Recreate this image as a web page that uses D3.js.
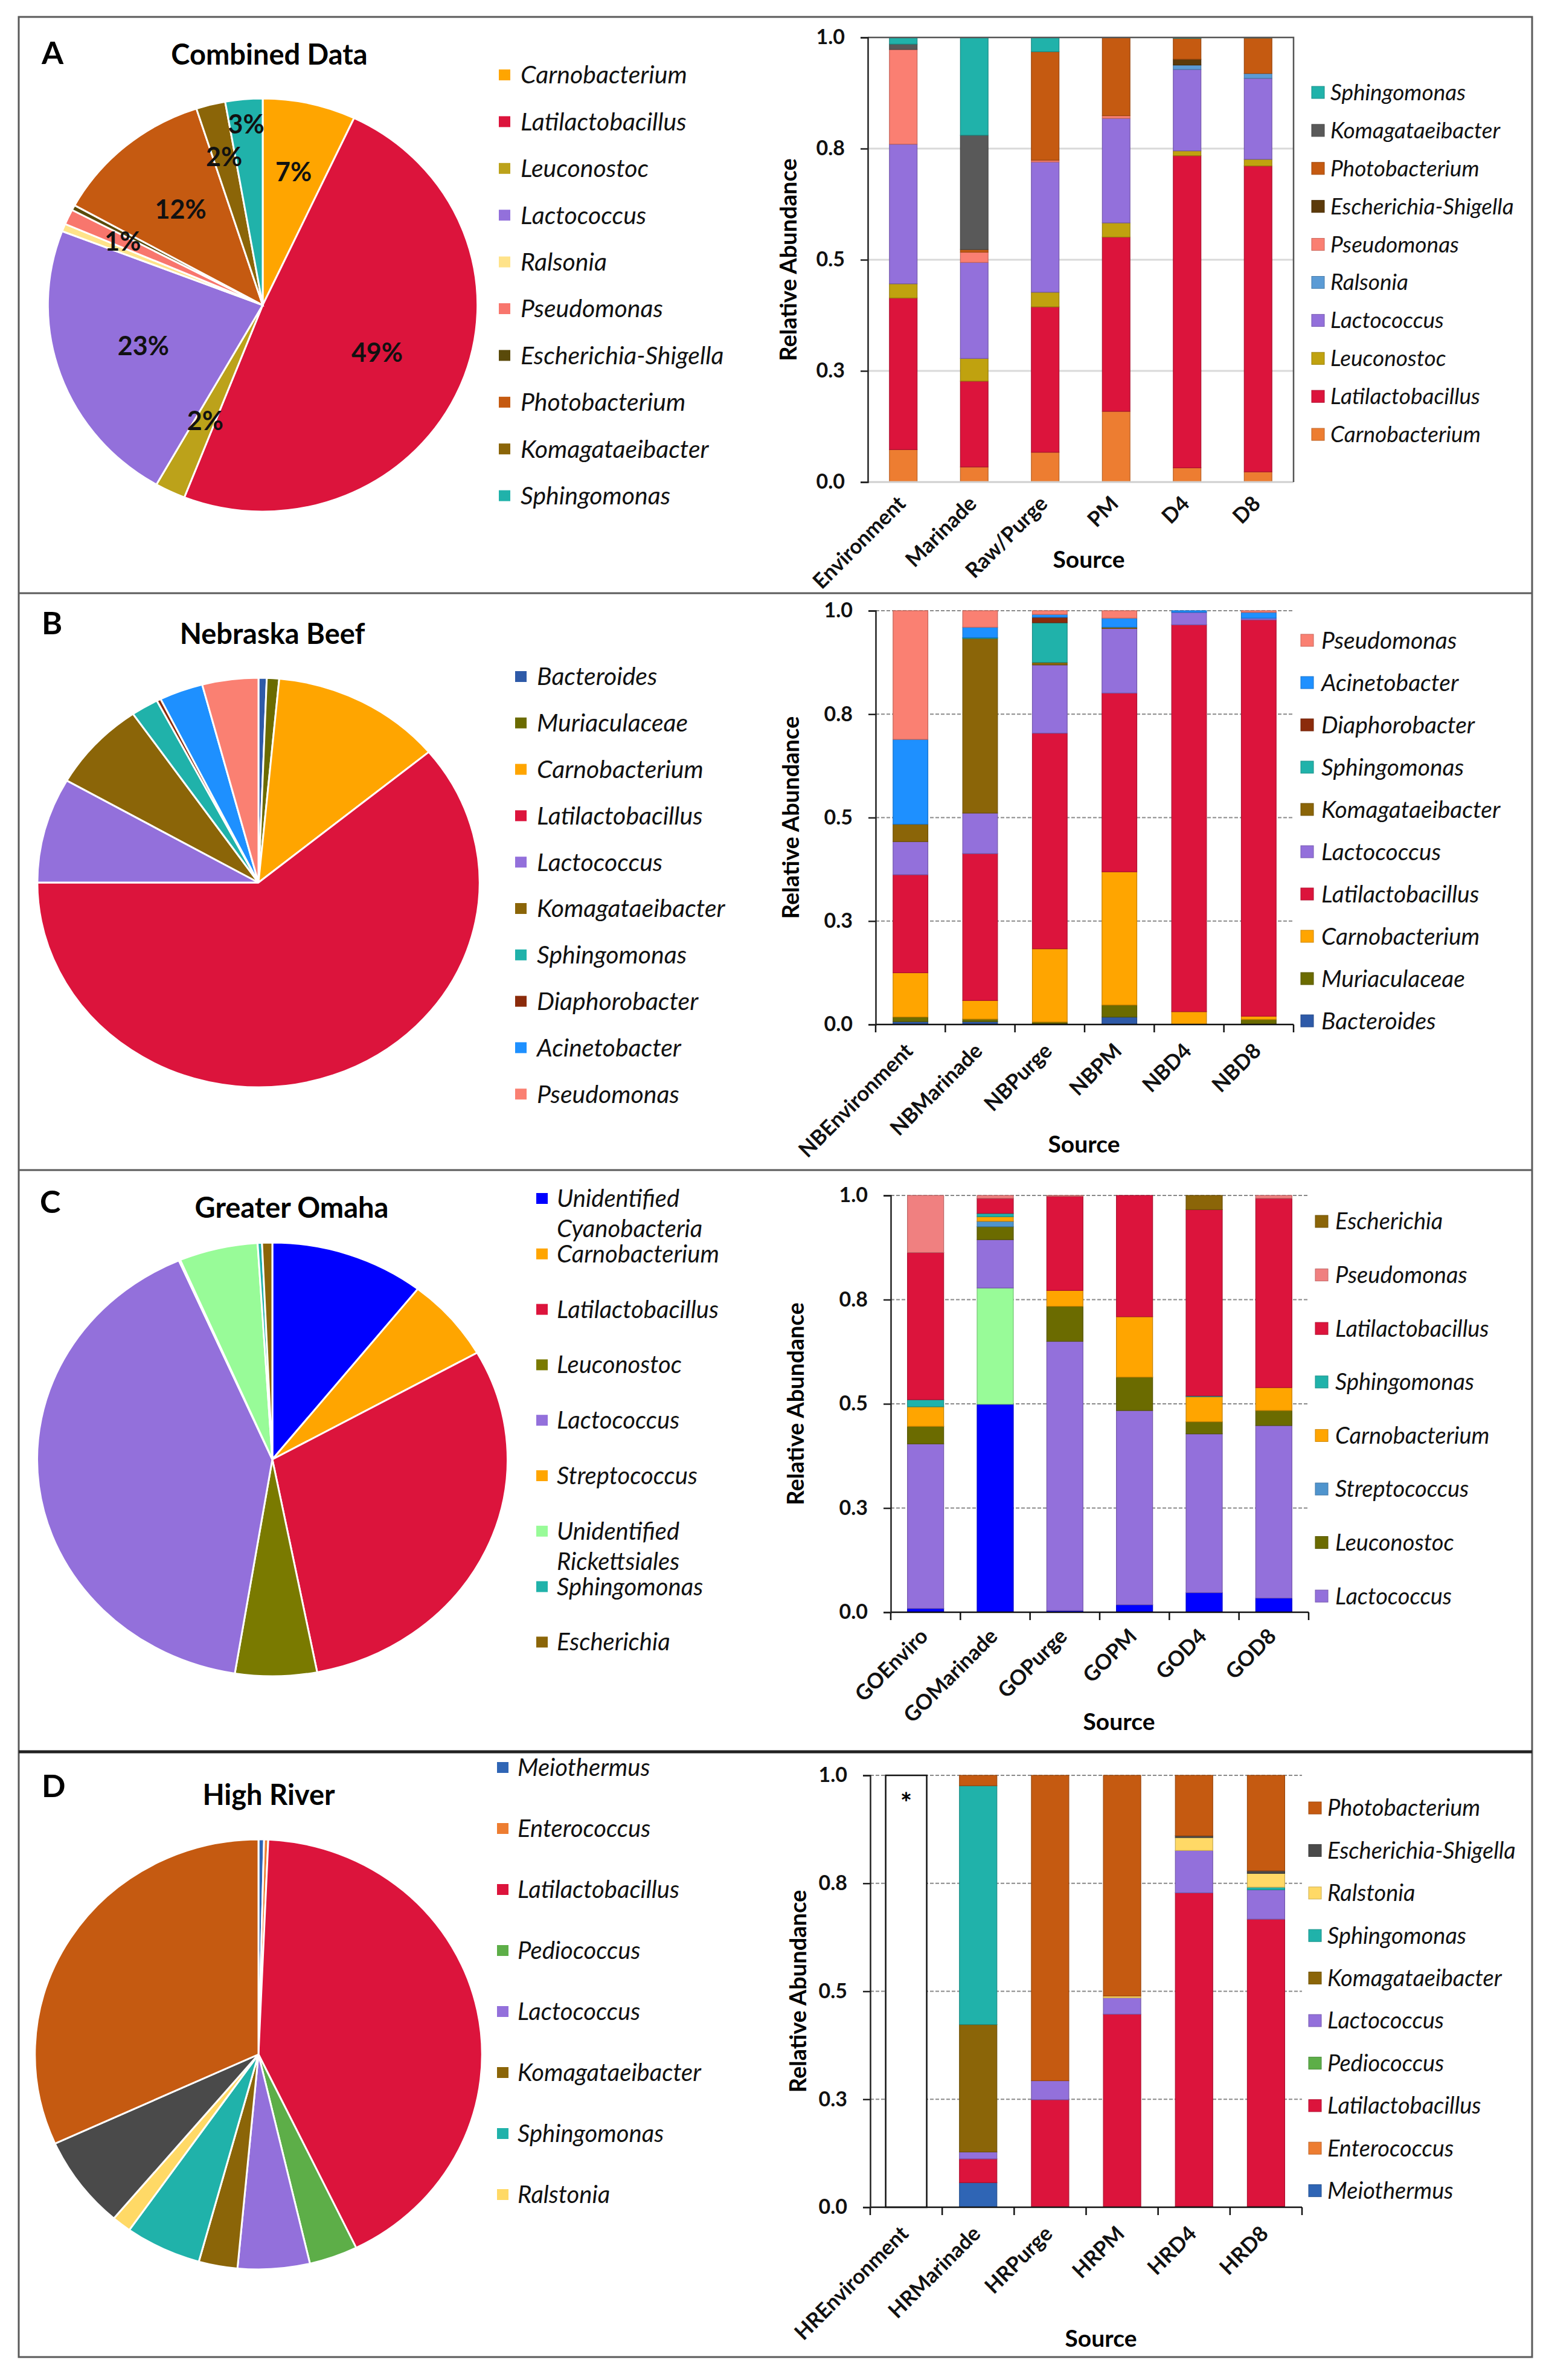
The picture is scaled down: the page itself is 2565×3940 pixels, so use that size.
<!DOCTYPE html>
<html>
<head>
<meta charset="utf-8">
<script src="https://cdn.jsdelivr.net/npm/d3@7"></script>
<style>
  body { margin: 0; background: #fff; }
  svg { display: block; font-family: Lato, "Open Sans", sans-serif; }
</style>
</head>
<body>
<div id="chart"></div>
<script>
// ---- shared axis ticks (Excel shows 0.25 / 0.75 rounded to one decimal)
const tickValues = [0, 0.25, 0.5, 0.75, 1];
const tickLabels = ['0.0', '0.3', '0.5', '0.8', '1.0'];

// ---- A: Combined Data
const taxaA = ['Carnobacterium', 'Latilactobacillus', 'Leuconostoc', 'Lactococcus', 'Ralsonia',
  'Pseudomonas', 'Escherichia-Shigella', 'Photobacterium', 'Komagataeibacter', 'Sphingomonas'];
const pieValuesA = [7, 49, 2.3, 22.6, 0.6, 1.2, 0.4, 12, 2.2, 2.8];
const sourcesA = ['Environment', 'Marinade', 'Raw/Purge', 'PM', 'D4', 'D8'];
const barValuesA = [
  [0.073, 0.034, 0.067, 0.159, 0.032, 0.023],
  [0.341, 0.193, 0.327, 0.392, 0.702, 0.688],
  [0.032, 0.051, 0.033, 0.032, 0.011, 0.015],
  [0.314, 0.216, 0.293, 0.235, 0.183, 0.182],
  [0, 0, 0, 0, 0.010, 0.011],
  [0.213, 0.023, 0.004, 0.006, 0, 0],
  [0, 0, 0, 0, 0.013, 0],
  [0, 0.006, 0.244, 0.176, 0.047, 0.080],
  [0.012, 0.257, 0, 0, 0, 0],
  [0.015, 0.220, 0.032, 0, 0.002, 0.001]
];

// ---- B: Nebraska Beef
const taxaB = ['Bacteroides', 'Muriaculaceae', 'Carnobacterium', 'Latilactobacillus', 'Lactococcus',
  'Komagataeibacter', 'Sphingomonas', 'Diaphorobacter', 'Acinetobacter', 'Pseudomonas'];
const pieValuesB = [0.6, 0.9, 12.5, 61, 8.3, 7.1, 2.0, 0.3, 3.2, 4.1];
const sourcesB = ['NBEnvironment', 'NBMarinade', 'NBPurge', 'NBPM', 'NBD4', 'NBD8'];
const barValuesB = [
  [0.007, 0.007, 0.002, 0.018, 0, 0],
  [0.011, 0.006, 0.004, 0.029, 0, 0.012],
  [0.107, 0.045, 0.177, 0.322, 0.031, 0.008],
  [0.237, 0.355, 0.521, 0.432, 0.935, 0.958],
  [0.080, 0.098, 0.165, 0.156, 0.030, 0.004],
  [0.042, 0.422, 0.006, 0.003, 0, 0],
  [0, 0.002, 0.096, 0, 0, 0],
  [0, 0, 0.013, 0, 0, 0],
  [0.205, 0.025, 0.007, 0.022, 0.004, 0.014],
  [0.311, 0.040, 0.009, 0.018, 0, 0.004]
];

// ---- C: Greater Omaha
const pieTaxaC = ['Unidentified Cyanobacteria', 'Carnobacterium', 'Latilactobacillus', 'Leuconostoc',
  'Lactococcus', 'Streptococcus', 'Unidentified Rickettsiales', 'Sphingomonas', 'Escherichia'];
const pieValuesC = [10.6, 6.2, 30.1, 5.6, 40.9, 0.1, 5.4, 0.3, 0.7];
const sourcesC = ['GOEnviro', 'GOMarinade', 'GOPurge', 'GOPM', 'GOD4', 'GOD8'];
const barTaxaC = ['Unidentified Cyanobacteria', 'Unidentified Rickettsiales', 'Lactococcus', 'Leuconostoc',
  'Streptococcus', 'Carnobacterium', 'Sphingomonas', 'Latilactobacillus', 'Pseudomonas', 'Escherichia'];
const barValuesC = [
  [0.009, 0.499, 0.004, 0.018, 0.047, 0.034],
  [0, 0.279, 0, 0, 0, 0],
  [0.395, 0.116, 0.646, 0.466, 0.381, 0.414],
  [0.042, 0.031, 0.084, 0.080, 0.029, 0.036],
  [0, 0.013, 0, 0, 0, 0],
  [0.047, 0.011, 0.038, 0.145, 0.060, 0.055],
  [0.017, 0.008, 0, 0, 0.002, 0],
  [0.353, 0.036, 0.226, 0.291, 0.447, 0.454],
  [0.137, 0.007, 0.002, 0, 0, 0.007],
  [0, 0, 0, 0, 0.034, 0]
];
const barLegendC = ['Escherichia', 'Pseudomonas', 'Latilactobacillus', 'Sphingomonas', 'Carnobacterium',
  'Streptococcus', 'Leuconostoc', 'Lactococcus'];

// ---- D: High River
const taxaD = ['Meiothermus', 'Enterococcus', 'Latilactobacillus', 'Pediococcus', 'Lactococcus',
  'Komagataeibacter', 'Sphingomonas', 'Ralstonia', 'Escherichia-Shigella', 'Photobacterium'];
const pieValuesD = [0.4, 0.3, 42.1, 3.5, 5.2, 2.8, 5.5, 1.4, 7.0, 31.8];
const sourcesD = ['HREnvironment', 'HRMarinade', 'HRPurge', 'HRPM', 'HRD4', 'HRD8'];
const barValuesD = [
  [0, 0.057, 0, 0, 0, 0],
  [0, 0, 0, 0, 0.002, 0.002],
  [0, 0.055, 0.249, 0.447, 0.726, 0.665],
  [0, 0, 0, 0, 0, 0],
  [0, 0.016, 0.044, 0.038, 0.098, 0.068],
  [0, 0.295, 0, 0, 0, 0],
  [0, 0.553, 0, 0, 0, 0.006],
  [0, 0, 0, 0.004, 0.030, 0.032],
  [0, 0, 0, 0, 0.004, 0.006],
  [0, 0.024, 0.707, 0.511, 0.140, 0.221]
];
const emptyBarD = [1, 0, 0, 0, 0, 0]; // HREnvironment: no reads (*)

// ---- colours
const colorsPieA = {
  Carnobacterium: '#FFA500', Latilactobacillus: '#DC143C', Leuconostoc: '#BCA21A', Lactococcus: '#9370DB',
  Ralsonia: '#FFE38A', Pseudomonas: '#F8766D', 'Escherichia-Shigella': '#5A4A0A', Photobacterium: '#C55A11',
  Komagataeibacter: '#8B6508', Sphingomonas: '#20B2AA'
};
const colorsBarA = Object.assign({}, colorsPieA, {
  Carnobacterium: '#ED7D31', Ralsonia: '#5B9BD5', Komagataeibacter: '#595959',
  'Escherichia-Shigella': '#5C3A0A', Leuconostoc: '#C0A20F', Pseudomonas: '#FA7F72'
});
const colorsB = {
  Bacteroides: '#2E5AA8', Muriaculaceae: '#6B6B00', Carnobacterium: '#FFA500', Latilactobacillus: '#DC143C',
  Lactococcus: '#9370DB', Komagataeibacter: '#8B6508', Sphingomonas: '#20B2AA', Diaphorobacter: '#8B2B0B',
  Acinetobacter: '#1E90FF', Pseudomonas: '#FA8072'
};
const colorsPieC = {
  'Unidentified Cyanobacteria': '#0000FF', Carnobacterium: '#FFA500', Latilactobacillus: '#DC143C',
  Leuconostoc: '#7A7A00', Lactococcus: '#9370DB', Streptococcus: '#FFA500',
  'Unidentified Rickettsiales': '#98FB98', Sphingomonas: '#20B2AA', Escherichia: '#8B6508'
};
const colorsBarC = Object.assign({}, colorsPieC, {
  Streptococcus: '#4F94CD', Pseudomonas: '#F08080', Leuconostoc: '#6B6B00'
});
const colorsD = {
  Meiothermus: '#2F65B5', Enterococcus: '#ED7D31', Latilactobacillus: '#DC143C', Pediococcus: '#5DAE48',
  Lactococcus: '#9370DB', Komagataeibacter: '#8B6508', Sphingomonas: '#20B2AA', Ralstonia: '#FFD966',
  'Escherichia-Shigella': '#4A4A4A', Photobacterium: '#C55A11'
};

// where each percentage label of pie A sits, as a fraction of the radius
const labelRadiusA = [0.66, 0.58, 0.62, 0.59, 0.7, 0.72, 0.7, 0.6, 0.74, 0.88];

const width = 2565, height = 3940;
const svg = d3.select('#chart').append('svg').attr('width', width).attr('height', height);
svg.append('rect').attr('width', width).attr('height', height).attr('fill', '#fff');

// frame and panel separators
svg.append('rect')
  .attr('x', 31).attr('y', 28).attr('width', 2506).attr('height', 3874)
  .attr('fill', 'none').attr('stroke', '#5a5a5a').attr('stroke-width', 3);
[[982, '#5a5a5a', 3], [1937, '#5a5a5a', 3], [2900, '#222', 5]].forEach(([y, c, w]) => {
  svg.append('line').attr('x1', 31).attr('x2', 2537).attr('y1', y).attr('y2', y)
    .attr('stroke', c).attr('stroke-width', w);
});

function drawHeader(h) {
  svg.append('text').attr('x', h.letterX).attr('y', h.letterY)
    .attr('font-size', 52).attr('font-weight', 700).text(h.letter);
  svg.append('text').attr('x', h.titleX).attr('y', h.titleY).attr('text-anchor', 'middle')
    .attr('font-size', 47).attr('font-weight', 700).text(h.title);
}

function drawPie(p) {
  const data = p.names.map((n, i) => ({ name: n, value: p.values[i], idx: i }));
  const total = d3.sum(p.values);
  const arcs = d3.pie().sort(null).value(d => d.value)(data);
  const arc = d3.arc().innerRadius(0).outerRadius(p.r);

  svg.append('g')
    .attr('transform', `translate(${p.cx},${p.cy}) scale(${p.sx},1)`)
    .selectAll('path')
    .data(arcs)
    .join('path')
    .attr('d', arc)
    .attr('fill', d => p.colors[d.data.name])
    .attr('stroke', '#fff')
    .attr('stroke-width', 3)
    .attr('vector-effect', 'non-scaling-stroke');

  if (p.labelRadius) {
    const shown = arcs.filter(d => d.data.value / total * 100 >= 1);
    svg.append('g')
      .selectAll('text')
      .data(shown)
      .join('text')
      .attr('transform', d => {
        const k = p.labelRadius[d.data.idx];
        const [x, y] = d3.arc().innerRadius(p.r * k).outerRadius(p.r * k).centroid(d);
        return `translate(${p.cx + x * p.sx},${p.cy + y})`;
      })
      .attr('text-anchor', 'middle')
      .attr('dy', '0.36em')
      .attr('font-size', 43)
      .attr('font-weight', 700)
      .attr('fill', '#111')
      .text(d => Math.round(d.data.value / total * 100) + '%');
  }

  // legend
  const lg = p.legend;
  const names = p.names.slice(0, lg.count || p.names.length);
  const item = svg.append('g').selectAll('g').data(names).join('g')
    .attr('transform', (d, i) => `translate(0,${lg.y0 + i * lg.dy})`);
  item.append('rect')
    .attr('x', lg.sqX).attr('y', -9).attr('width', 19).attr('height', 18)
    .attr('fill', d => p.colors[d]);
  item.each(function (d) {
    const lines = d.startsWith('Unidentified ') ? ['Unidentified', d.slice(13)] : [d];
    const t = d3.select(this).append('text')
      .attr('x', lg.textX).attr('font-size', lg.fontSize).attr('font-style', 'italic').attr('fill', '#111');
    lines.forEach((l, j) => {
      t.append('tspan').attr('x', lg.textX).attr('y', j * (lg.wrapDy || 0)).attr('dy', '0.35em').text(l);
    });
  });
}

function drawBars(b) {
  const x = d3.scaleBand().domain(b.sources).range([b.left, b.right])
    .paddingInner(b.pad).paddingOuter(b.pad / 2);
  const y = d3.scaleLinear().domain([0, 1]).range([b.bottom, b.top]);

  const rows = b.sources.map((s, j) => {
    const r = { source: s };
    b.taxa.forEach((t, i) => { r[t] = b.values[i][j]; });
    return r;
  });
  const series = d3.stack().keys(b.taxa)(rows);

  // gridlines
  const grid = svg.append('g');
  const gridVals = b.excel ? [0.25, 0.5, 0.75] : [0.25, 0.5, 0.75, 1];
  grid.selectAll('line').data(gridVals).join('line')
    .attr('x1', b.left).attr('x2', b.right)
    .attr('y1', d => y(d)).attr('y2', d => y(d))
    .attr('stroke', b.excel ? '#d9d9d9' : '#8a8a8a')
    .attr('stroke-width', b.excel ? 3 : 2)
    .attr('stroke-dasharray', b.excel ? null : '6,3');

  if (b.emptyBar) {
    const empty = b.sources.filter((s, j) => b.emptyBar[j] > 0);
    svg.append('g').selectAll('rect')
      .data(empty)
      .join('rect')
      .attr('x', d => x(d) - 3).attr('width', x.bandwidth() + 6)
      .attr('y', d => y(b.emptyBar[b.sources.indexOf(d)]))
      .attr('height', d => y(0) - y(b.emptyBar[b.sources.indexOf(d)]))
      .attr('fill', '#fff').attr('stroke', '#111').attr('stroke-width', 2.5);
    svg.append('g').selectAll('text')
      .data(empty)
      .join('text')
      .attr('x', d => x(d) + x.bandwidth() / 2).attr('y', y(1) + 62)
      .attr('text-anchor', 'middle').attr('font-size', 46).attr('font-weight', 700).text('*');
  }

  svg.append('g')
    .selectAll('g')
    .data(series)
    .join('g')
    .attr('fill', d => b.colors[d.key])
    .attr('stroke', d => d3.color(b.colors[d.key]).darker(0.7))
    .attr('stroke-width', 1.2)
    .selectAll('rect')
    .data(d => d.filter(s => s[1] - s[0] > 0))
    .join('rect')
    .attr('x', d => x(d.data.source))
    .attr('width', x.bandwidth())
    .attr('y', d => y(d[1]))
    .attr('height', d => y(d[0]) - y(d[1]));

  // frame lines
  if (b.excel) {
    svg.append('line').attr('x1', b.left).attr('x2', b.right).attr('y1', y(0)).attr('y2', y(0))
      .attr('stroke', '#cfcfcf').attr('stroke-width', 3);
    svg.append('path')
      .attr('d', `M${b.left},${y(1)}H${b.right}V${y(0)}`)
      .attr('fill', 'none').attr('stroke', '#555').attr('stroke-width', 2.5);
  } else {
    const step = x.step();
    const xa = svg.append('g').attr('stroke', '#111').attr('stroke-width', 2.5);
    xa.append('line').attr('x1', b.left).attr('x2', b.right).attr('y1', y(0)).attr('y2', y(0));
    xa.selectAll('.tk').data(d3.range(b.sources.length + 1)).join('line')
      .attr('x1', i => b.left + i * step).attr('x2', i => b.left + i * step)
      .attr('y1', y(0)).attr('y2', y(0) + 13);
  }

  // y axis
  const ya = svg.append('g')
    .attr('transform', `translate(${b.left},0)`)
    .call(d3.axisLeft(y).tickValues(tickValues).tickFormat((d, i) => tickLabels[i]).tickSize(12).tickPadding(26));
  ya.select('.domain').attr('stroke', '#222').attr('stroke-width', 2.5);
  ya.selectAll('.tick line').attr('stroke', '#222').attr('stroke-width', 2.5);
  ya.selectAll('.tick text').attr('font-size', 34).attr('font-weight', 700).attr('fill', '#111')
    .attr('font-family', 'Lato, "Open Sans", sans-serif');

  // x labels
  svg.append('g').selectAll('text').data(b.sources).join('text')
    .attr('transform', d => `translate(${x(d) + x.bandwidth() / 2 + 6},${y(0) + b.labelGap}) rotate(-45)`)
    .attr('text-anchor', 'end')
    .attr('font-size', 35).attr('font-weight', 700).attr('fill', '#111')
    .text(d => d);

  svg.append('text').attr('x', b.sourceX).attr('y', b.sourceY).attr('text-anchor', 'middle')
    .attr('font-size', 39).attr('font-weight', 700).text('Source');
  svg.append('text')
    .attr('transform', `translate(${b.titleX},${(y(0) + y(1)) / 2}) rotate(-90)`)
    .attr('text-anchor', 'middle').attr('dy', '0.35em')
    .attr('font-size', 38).attr('font-weight', 700).text('Relative Abundance');

  // legend
  const lg = b.legend;
  const item = svg.append('g').selectAll('g').data(lg.names).join('g')
    .attr('transform', (d, i) => `translate(0,${lg.y0 + i * lg.dy})`);
  item.append('rect').attr('x', lg.sqX).attr('y', -10).attr('width', 21).attr('height', 20)
    .attr('fill', d => b.colors[d]).attr('stroke', d => d3.color(b.colors[d]).darker(0.6)).attr('stroke-width', 1);
  item.append('text').attr('x', lg.textX).attr('dy', '0.35em')
    .attr('font-size', lg.fontSize).attr('font-style', 'italic').attr('fill', '#111').text(d => d);
}

// ---------------- Panel A
drawHeader({ letter: 'A', letterX: 69, letterY: 106, title: 'Combined Data', titleX: 446, titleY: 107 });
drawPie({
  names: taxaA, values: pieValuesA, colors: colorsPieA, cx: 435, cy: 505, r: 342, sx: 1.04,
  labelRadius: labelRadiusA,
  legend: { sqX: 826, textX: 862, y0: 124, dy: 77.4, fontSize: 41 }
});
drawBars({
  sources: sourcesA, taxa: taxaA, values: barValuesA, colors: colorsBarA, excel: true,
  left: 1437, right: 2142, top: 62, bottom: 798, pad: 0.61, labelGap: 38,
  sourceX: 1803, sourceY: 940, titleX: 1306,
  legend: { names: taxaA.slice().reverse(), sqX: 2172, textX: 2203, y0: 153, dy: 62.9, fontSize: 37 }
});

// ---------------- Panel B
drawHeader({ letter: 'B', letterX: 69, letterY: 1050, title: 'Nebraska Beef', titleX: 451, titleY: 1066 });
drawPie({
  names: taxaB, values: pieValuesB, colors: colorsB, cx: 428, cy: 1461, r: 339, sx: 1.08,
  legend: { sqX: 853, textX: 889, y0: 1120, dy: 76.8, fontSize: 41 }
});
drawBars({
  sources: sourcesB, taxa: taxaB, values: barValuesB, colors: colorsB, excel: false,
  left: 1450, right: 2142, top: 1011, bottom: 1696, pad: 0.5, labelGap: 46,
  sourceX: 1795, sourceY: 1908, titleX: 1310,
  legend: { names: taxaB.slice().reverse(), sqX: 2154, textX: 2188, y0: 1060, dy: 70, fontSize: 39 }
});

// ---------------- Panel C
drawHeader({ letter: 'C', letterX: 66, letterY: 2008, title: 'Greater Omaha', titleX: 483, titleY: 2016 });
drawPie({
  names: pieTaxaC, values: pieValuesC, colors: colorsPieC, cx: 451, cy: 2416, r: 359, sx: 1.085,
  legend: { sqX: 888, textX: 922, y0: 1984, dy: 91.8, wrapDy: 50, fontSize: 40 }
});
drawBars({
  sources: sourcesC, taxa: barTaxaC, values: barValuesC, colors: colorsBarC, excel: false,
  left: 1475, right: 2167, top: 1979, bottom: 2669, pad: 0.48, labelGap: 42,
  sourceX: 1853, sourceY: 2864, titleX: 1318,
  legend: { names: barLegendC, sqX: 2178, textX: 2211, y0: 2022, dy: 88.6, fontSize: 38 }
});

// ---------------- Panel D
drawHeader({ letter: 'D', letterX: 69, letterY: 2975, title: 'High River', titleX: 445, titleY: 2988 });
drawPie({
  names: taxaD, values: pieValuesD, colors: colorsD, cx: 428, cy: 3401, r: 356, sx: 1.04,
  legend: { sqX: 823, textX: 857, y0: 2926, dy: 101, fontSize: 40, count: 8 }
});
drawBars({
  sources: sourcesD, taxa: taxaD, values: barValuesD, colors: colorsD, excel: false, emptyBar: emptyBarD,
  left: 1441, right: 2156, top: 2939, bottom: 3654, pad: 0.48, labelGap: 46,
  sourceX: 1823, sourceY: 3885, titleX: 1322,
  legend: { names: taxaD.slice().reverse(), sqX: 2167, textX: 2198, y0: 2993, dy: 70.4, fontSize: 38 }
});
</script>
</body>
</html>
